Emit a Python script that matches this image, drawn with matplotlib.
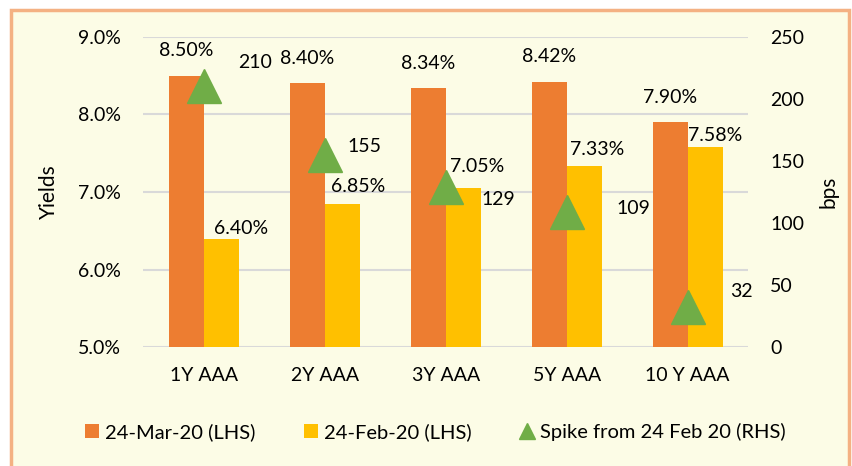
import numpy as np
import matplotlib.pyplot as plt
from matplotlib.patches import Rectangle

plt.rcParams['font.family'] = ['Lato', 'DejaVu Sans']

categories = ["1Y AAA", "2Y AAA", "3Y AAA", "5Y AAA", "10 Y AAA"]
mar20 = [8.50, 8.40, 8.34, 8.42, 7.90]
feb20 = [6.40, 6.85, 7.05, 7.33, 7.58]
spike = [210, 155, 129, 109, 32]

# label offsets in pixels (the labels were nudged by hand in the original)
feb_off = [(20, 10), (16, 17), (14, 22), (13, 17), (10, 11)]
spike_off = [(51, 24), (40, 8), (53, -12), (67, 3), (54, 16)]

orange = "#ED7D31"
yellow = "#FFC000"
green = "#70AD47"
bg = "#FCFCE6"
fs = 14

fig = plt.figure(figsize=(8.53, 4.66), dpi=100)
fig.patch.set_facecolor("white")
fig.patches.append(Rectangle((0.013, -0.01), 0.982, 0.988, transform=fig.transFigure,
                             facecolor=bg, edgecolor="#F4B183", linewidth=2.5, zorder=-10))

ax = fig.add_axes([0.168, 0.255, 0.709, 0.666])
ax.set_facecolor("none")
x = np.arange(len(categories))
w = 0.29
ax.bar(x - w / 2, mar20, w, color=orange, zorder=2, label="24-Mar-20 (LHS)")
ax.bar(x + w / 2, feb20, w, color=yellow, zorder=2, label="24-Feb-20 (LHS)")
ax.set_ylim(5, 9)
ax.set_xlim(-0.5, len(categories) - 0.5)
ax.set_yticks([5, 6, 7, 8, 9])
ax.set_yticklabels([f"{v:.1f}%" for v in [5, 6, 7, 8, 9]])
ax.set_xticks(x)
ax.set_xticklabels(categories)
ax.grid(axis="y", color="#D9D9D9", linewidth=1.5, zorder=0)
ax.set_axisbelow(True)
for s in ax.spines.values():
    s.set_visible(False)
ax.tick_params(length=0, labelsize=fs)
ax.tick_params(axis="y", pad=16)
ax.tick_params(axis="x", pad=14)
ax.set_ylabel("Yields", fontsize=15, labelpad=14)

for i, v in enumerate(mar20):
    ax.annotate(f"{v:.2f}%", (x[i] - w / 2, v), xytext=(0, 25), textcoords="offset pixels",
                ha="center", va="center", fontsize=fs)
for i, v in enumerate(feb20):
    ax.annotate(f"{v:.2f}%", (x[i] + w / 2, v), xytext=feb_off[i], textcoords="offset pixels",
                ha="center", va="center", fontsize=fs)

ax2 = ax.twinx()
ax2.set_ylim(0, 250)
ax2.set_yticks([0, 50, 100, 150, 200, 250])
ax2.plot(x, spike, linestyle="none", marker="^", markersize=24, color=green, zorder=3,
         label="Spike from 24 Feb 20 (RHS)")
for s in ax2.spines.values():
    s.set_visible(False)
ax2.tick_params(length=0, labelsize=fs, pad=16)
ax2.set_ylabel("bps", fontsize=15, rotation=90, labelpad=10)
for i, v in enumerate(spike):
    ax2.annotate(str(v), (x[i], v), xytext=spike_off[i], textcoords="offset pixels",
                 ha="center", va="center", fontsize=fs)

h1, l1 = ax.get_legend_handles_labels()
h2, l2 = ax2.get_legend_handles_labels()
fig.legend(h1 + h2, l1 + l2, loc="center", bbox_to_anchor=(0.51, 0.073), ncol=3,
           frameon=False, fontsize=14.5, handlelength=0.7, handleheight=0.7,
           handletextpad=0.3, columnspacing=2.4, markerscale=0.5)

fig.savefig("out.png", dpi=100, facecolor=fig.get_facecolor())
